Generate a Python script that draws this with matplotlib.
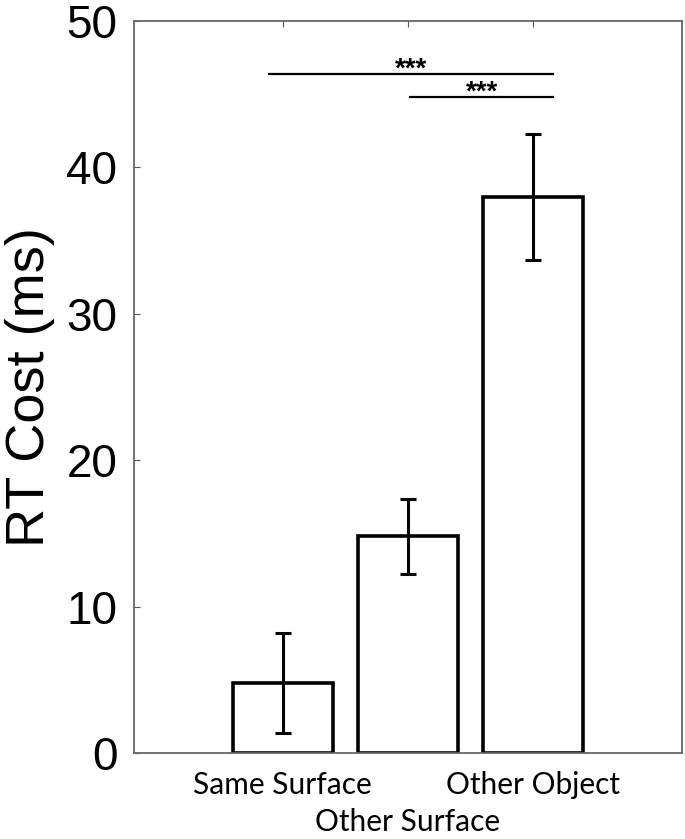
import numpy as np
import matplotlib.pyplot as plt

# bar data
conditions = ['Same Surface', 'Other Surface', 'Other Object']
rt_cost = [4.8, 14.8, 38.0]
rt_err = [3.4, 2.55, 4.3]

# significance brackets: (x start, x end, height, label)
sig_pairs = [(0.89, 3.16, 46.4, '***'), (2.02, 3.16, 44.8, '***')]

fig = plt.figure(figsize=(6.85, 8.39), dpi=100)
ax = fig.add_axes([0.1956, 0.1025, 0.8, 0.8725])

x = np.arange(1, len(conditions) + 1)
ax.bar(x, rt_cost, width=0.8, facecolor='white', edgecolor='black', linewidth=2.6, zorder=2)
ax.errorbar(x, rt_cost, yerr=rt_err, fmt='none', ecolor='black', elinewidth=2.2,
            capsize=5.5, capthick=2.2, zorder=3)

for x0, x1, h, lab in sig_pairs:
    ax.plot([x0, x1], [h, h], color='black', linewidth=1.6)
    ax.text((x0 + x1) / 2, h - 0.2, lab, ha='center', va='baseline', fontsize=20,
            fontweight='bold', family='Liberation Sans')

ax.set_xlim(-0.19, 4.19)
ax.set_ylim(0, 50)
ax.set_yticks([0, 10, 20, 30, 40, 50])
ax.set_xticks(x)
ax.set_xticklabels(conditions, family='Lato', fontsize=21.5)
for lab in ax.get_yticklabels():
    lab.set_family('Liberation Sans')
    lab.set_fontsize(33)

ax.tick_params(axis='both', direction='in', length=4, width=0.8, color='#555555',
               top=True)
ax.tick_params(axis='y', pad=12)
ax.tick_params(axis='x', pad=13)
# middle label sits on a second row, as in the original
ax.xaxis.get_major_ticks()[1].set_pad(39.5)
for s in ax.spines.values():
    s.set_color('#666666')
    s.set_linewidth(1.3)

ax.set_ylabel('RT Cost (ms)', family='Liberation Sans', fontsize=39)
ax.yaxis.set_label_coords(-0.145, 0.5)

fig.savefig('out.png', dpi=100)
